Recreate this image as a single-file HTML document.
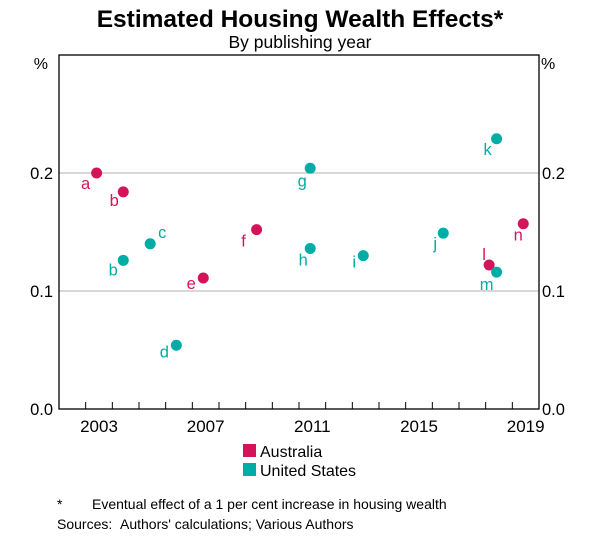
<!DOCTYPE html>
<html><head><meta charset="utf-8"><style>
body{margin:0;background:#fff;}
svg{display:block;font-family:"Liberation Sans",Arial,sans-serif;}
</style></head><body>
<svg id="chart" width="600" height="537" viewBox="0 0 600 537">
<text x="300" y="27" text-anchor="middle" font-size="24.5" font-weight="bold">Estimated Housing Wealth Effects*</text>
<text x="300" y="48" text-anchor="middle" font-size="17.5">By publishing year</text>
<g id="grid"></g>
<rect x="59" y="55" width="480" height="354" fill="none" stroke="#000" stroke-width="1.3"/>
<g id="ticks"></g>
<g id="points"></g>
<text x="48" y="69" text-anchor="end" font-size="16">%</text>
<text x="541" y="69" font-size="16">%</text>
<rect x="243" y="444" width="13" height="13" fill="#d4145a"/>
<text x="260" y="457" font-size="16">Australia</text>
<rect x="243" y="463" width="13" height="13" fill="#00aca6"/>
<text x="260" y="476" font-size="16">United States</text>
<text x="57" y="509" font-size="14">*</text>
<text x="92" y="509" font-size="14">Eventual effect of a 1 per cent increase in housing wealth</text>
<text x="57" y="529" font-size="14">Sources:</text>
<text x="120" y="529" font-size="14">Authors' calculations; Various Authors</text>
</svg>
<script>
const yTicks=[0,0.1,0.2];
const yTickLabels=["0.0","0.1","0.2"];
const xLabelYears=[2003,2007,2011,2015,2019];
const ptLabels=["a","b","c","b","e","f","d","g","h","i","j","k","l","m","n"];
const ptYears=[2003.41,2004.41,2005.42,2004.41,2007.41,2009.41,2006.40,2011.42,2011.42,2013.41,2016.41,2018.41,2018.13,2018.41,2019.41];
const ptValues=[0.200,0.184,0.140,0.126,0.111,0.152,0.054,0.204,0.136,0.130,0.149,0.229,0.122,0.116,0.157];
const ptCountry=["AU","AU","US","US","AU","AU","US","US","US","US","US","US","AU","US","AU"];
const labelDx=[-11,-9,12,-10,-12,-13,-12,-8,-7,-9,-8,-9,-5,-10,-5];
const labelDy=[10,8,-12,9,5,11,6,12,11,6,10,10,-11,12,11];
const colors={AU:"#d4145a",US:"#00aca6"};
const NS="http://www.w3.org/2000/svg";
const X=y=>59+(y-2002)*(480/18);
const Y=v=>409-v*1180;
function mk(t,a,p){const e=document.createElementNS(NS,t);for(const k in a)e.setAttribute(k,a[k]);p.appendChild(e);return e;}
const grid=document.getElementById('grid'),ticks=document.getElementById('ticks'),pts=document.getElementById('points');
yTicks.forEach((v,i)=>{
 if(v>0){const l=mk('line',{x1:59,x2:539,y1:Y(v),y2:Y(v),stroke:'#b0b0b0','stroke-width':1},grid);
 
 }
 const t1=mk('text',{x:53,y:Y(v)+6,'text-anchor':'end','font-size':16.5},ticks);t1.textContent=yTickLabels[i];
 
 
 const t2=mk('text',{x:542,y:Y(v)+6,'font-size':16.5},ticks);t2.textContent=yTickLabels[i];
 
 
});
for(let yr=2003;yr<=2019;yr++){
 const l=mk('line',{x1:X(yr),x2:X(yr),y1:409,y2:402,stroke:'#000','stroke-width':1},ticks);
 
 
}
xLabelYears.forEach(yr=>{
 const t=mk('text',{x:X(yr+0.5),y:432,'text-anchor':'middle','font-size':17},ticks);t.textContent=yr;
 
 
});
ptValues.forEach((v,i)=>{
 const cx=X(ptYears[i]),cy=Y(v),c=colors[ptCountry[i]];
 const d=mk('circle',{cx:cx,cy:cy,r:5.5,fill:c},pts);
 
 
 const t=mk('text',{x:cx+labelDx[i],y:cy+labelDy[i]+6,'text-anchor':'middle','font-size':16.5,fill:c},pts);t.textContent=ptLabels[i];
 
 
});
</script>
</body></html>
